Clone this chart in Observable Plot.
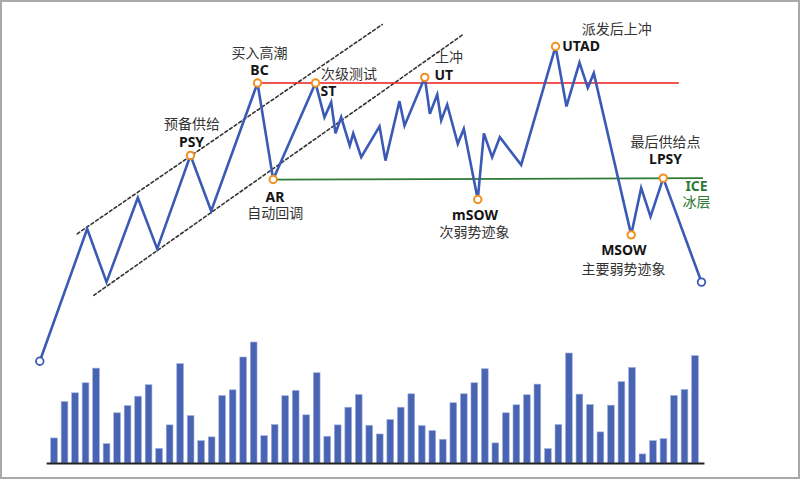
<!DOCTYPE html>
<html><head><meta charset="utf-8">
<script src="https://cdn.jsdelivr.net/npm/d3@7"></script>
<script src="https://cdn.jsdelivr.net/npm/@observablehq/plot@0.6"></script>
<style>
html,body{margin:0;padding:0;background:#fff;}
#wrap{position:relative;width:800px;height:481px;overflow:hidden;background:#fff;}
#wrap svg{position:absolute;left:0;top:0;}
#frame{position:absolute;left:0;top:0;width:800px;height:479px;box-sizing:border-box;border:2px solid #a9a9a9;pointer-events:none;}
</style></head><body>
<div id="wrap"><div id="frame"></div></div>
<script>
// ---- price path (time in bar units, price in arbitrary units) ----
const priceT = [-0.40, 4.11, 5.95, 8.93, 10.77, 13.94, 15.91, 20.32, 21.81, 25.84, 26.69, 27.33, 27.74, 28.28, 29.10, 29.43, 30.19, 31.93, 32.50, 33.83, 34.31, 36.24, 36.72, 37.42, 37.80, 38.37, 39.38, 39.95, 41.28, 41.86, 42.65, 43.38, 45.41, 48.68, 49.72, 50.96, 51.75, 52.32, 55.88, 56.83, 57.72, 58.93, 62.57];
const priceP = [5.8, 43.6, 28.4, 52.5, 37.9, 64.6, 48.7, 85.3, 57.7, 85.3, 75.5, 79.8, 70.9, 75.5, 67.4, 70.9, 64.1, 72.9, 63.1, 80.1, 73.1, 86.9, 76.5, 82.0, 74.6, 79.1, 67.9, 72.2, 52.0, 70.9, 64.1, 69.8, 61.9, 95.7, 78.6, 91.1, 83.9, 88.1, 41.9, 55.3, 47.1, 58.1, 28.4];
const keyIndex = [5, 7, 8, 9, 21, 28, 33, 38, 41];   // PSY BC AR ST UT mSOW UTAD MSOW LPSY
const endIndex = [0, 42];

// ---- volume bars ----
const volume = [20.7,50.8,58.0,66.3,78.4,16.0,41.5,47.5,55.2,64.7,12.1,31.5,82.1,39.2,18.5,21.6,55.8,60.5,87.6,100,22.6,31.8,55.6,60.0,39.8,74.6,22.1,31.5,46.1,56.6,31.2,24.0,35.9,46.1,57.2,30.9,26.8,19.6,49.8,57.2,66.3,77.9,16.6,41.5,48.1,56.4,65.2,11.9,31.8,90.9,56.9,48.3,25.7,47.8,67.2,79.0,7.5,18.5,20.1,55.8,60.8,88.7];
const baselineT = [0.3, 62.9];

// ---- channel & levels ----
const upperChannelT = [3.16, 32.19], upperChannelP = [42.2, 102.0];
const lowerChannelT = [4.74, 39.95], lowerChannelP = [24.6, 99.3];
const resistanceT = [20.32, 60.36], resistanceP = [85.3, 85.3];
const iceT = [21.81, 62.64], iceP = [57.7, 58.1];

// ---- labels ----
const codes = ["BC", "PSY", "AR", "ST", "UT", "UTAD", "LPSY", "mSOW", "MSOW"];
const codeT = [20.51, 14.04, 21.98, 26.31, 37.16, 49.32, 59.15, 41.02, 55.18];
const codeP = [88.71, 68.37, 52.7, 82.86, 87.34, 95.71, 63.51, 47.55, 37.35];
const names = ["买入高潮", "预备供给", "自动回调", "次级测试", "上冲", "派发后上冲", "最后供给点", "次弱势迹象", "主要弱势迹象"];
const nameT = [20.51, 14.09, 22.00, 26.36, 37.21, 51.18, 59.15, 40.97, 55.15];
const nameP = [93.8, 73.5, 48.1, 87.8, 92.5, 100.57, 68.35, 42.5, 32.1];
const leftCodes = ["ST", "UT", "UTAD"];
const iceCode = ["ICE"], iceName = ["冰层"];
const iceCodeT = 62.10, iceCodeP = 55.85, iceNameT = 62.10, iceNameP = 51.0;

// ---- build tables ----
const price = priceT.map((t, i) => ({t, p: priceP[i]}));
const keys = keyIndex.map(i => price[i]);
const ends = endIndex.map(i => price[i]);
const bars = volume.map((v, i) => ({t: i + 1, v}));
const seg = (T, P, g) => T.map((t, i) => ({t, p: P[i], g}));
const channels = [...seg(upperChannelT, upperChannelP, "u"), ...seg(lowerChannelT, lowerChannelP, "l")];
const codeRows = codes.map((c, i) => ({c, t: codeT[i], p: codeP[i], left: leftCodes.includes(c)}));
const nameRows = names.map((c, i) => ({c, t: nameT[i], p: nameP[i], left: leftCodes.includes(codes[i])}));

const LATIN = "'Noto Sans', 'Noto Sans CJK SC', sans-serif";
const CJK = "'Noto Sans CJK SC', sans-serif";
const BLUE = "#3a5ab5", ORANGE = "#f0901e", GREEN = "#2e7a34", RED = "#ee1c1c";

const xScale = {domain: [1, 62], axis: null};

const volPlot = Plot.plot({
  width: 800, height: 481,
  marginLeft: 54, marginRight: 105, marginTop: 342, marginBottom: 18,
  x: xScale,
  y: {domain: [0, 100], axis: null},
  style: {background: "transparent", overflow: "visible"},
  marks: [
    Plot.rectY(bars, {x1: d => d.t - 0.32, x2: d => d.t + 0.32, y1: 0, y2: "v", fill: "#4864b2", stroke: "#9fb0de", strokeWidth: 0.6}),
    Plot.ruleY([0], {x1: baselineT[0], x2: baselineT[1], stroke: "#222", strokeWidth: 2})
  ]
});

const pricePlot = Plot.plot({
  width: 800, height: 481,
  marginLeft: 54, marginRight: 105, marginTop: 31, marginBottom: 100,
  x: xScale,
  y: {domain: [0, 100], axis: null},
  style: {background: "transparent", overflow: "visible"},
  marks: [
    Plot.line(channels, {x: "t", y: "p", z: "g", stroke: "#333", strokeWidth: 1.6, strokeDasharray: "3,2.6"}),
    Plot.line(seg(resistanceT, resistanceP, "r"), {x: "t", y: "p", stroke: RED, strokeWidth: 1.6}),
    Plot.line(seg(iceT, iceP, "i"), {x: "t", y: "p", stroke: GREEN, strokeWidth: 1.8}),
    Plot.line(price, {x: "t", y: "p", stroke: BLUE, strokeWidth: 2.6, strokeLinejoin: "miter", strokeMiterlimit: 4}),
    Plot.dot(keys, {x: "t", y: "p", r: 3.7, stroke: ORANGE, strokeWidth: 2, fill: "#fff"}),
    Plot.dot(ends, {x: "t", y: "p", r: 3.8, stroke: BLUE, strokeWidth: 1.8, fill: "#fff"}),
    Plot.text(codeRows.filter(d => !d.left), {x: "t", y: "p", text: "c", fontFamily: LATIN, fontWeight: "bold", fontSize: 14, fill: "#151515"}),
    Plot.text(codeRows.filter(d => d.left), {x: "t", y: "p", text: "c", textAnchor: "start", fontFamily: LATIN, fontWeight: "bold", fontSize: 14, fill: "#151515"}),
    Plot.text(nameRows.filter(d => !d.left), {x: "t", y: "p", text: "c", fontFamily: CJK, fontSize: 14, fill: "#333"}),
    Plot.text(nameRows.filter(d => d.left), {x: "t", y: "p", text: "c", textAnchor: "start", fontFamily: CJK, fontSize: 14, fill: "#333"}),
    Plot.text(iceCode, {x: () => iceCodeT, y: () => iceCodeP, text: d => d, fontFamily: LATIN, fontWeight: "bold", fontSize: 14, fill: GREEN}),
    Plot.text(iceName, {x: () => iceNameT, y: () => iceNameP, text: d => d, fontFamily: CJK, fontSize: 14, fill: GREEN})
  ]
});

const wrap = document.getElementById("wrap");
wrap.insertBefore(pricePlot, wrap.firstChild);
wrap.insertBefore(volPlot, wrap.firstChild);
</script>
</body></html>
